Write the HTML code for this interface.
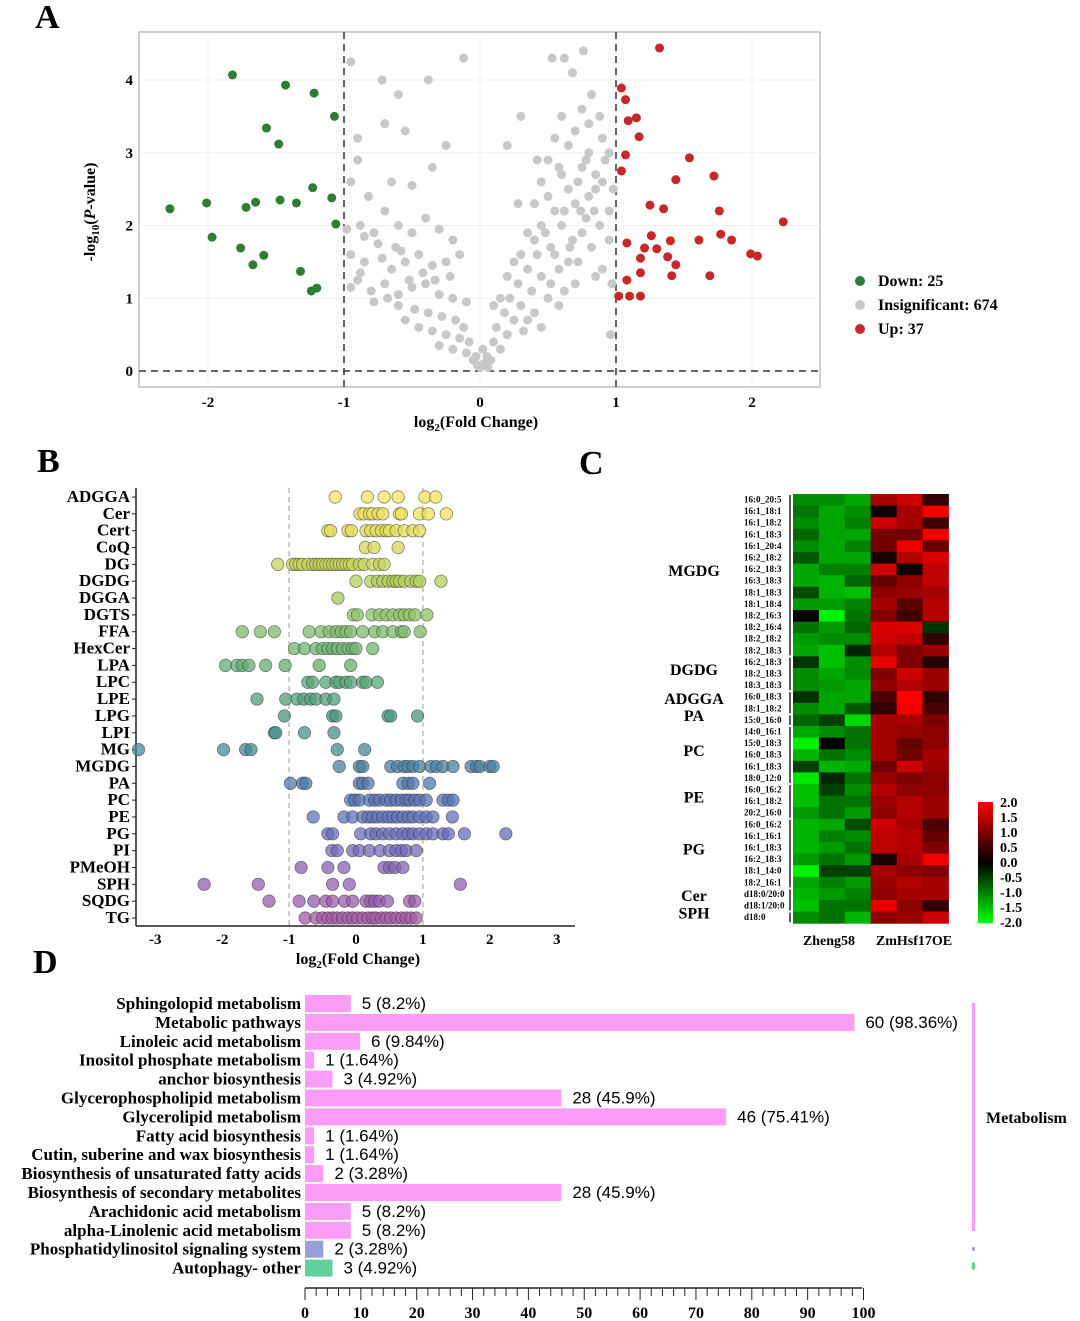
<!DOCTYPE html>
<html><head><meta charset="utf-8"><style>
body{margin:0;background:#fff;}
svg{display:block;font-family:"Liberation Serif",serif;}
</style></head><body>
<svg id="fig" width="1080" height="1321" viewBox="0 0 1080 1321" xmlns="http://www.w3.org/2000/svg">
<g id="gA"></g>
<g id="gB"></g>
<g id="gC"></g>
<g id="gD"></g>
</svg>
<script>
// ---------- Panel A data ----------
const downX=[-1.82,-1.43,-1.22,-1.07,-1.57,-1.48,-1.23,-1.09,-1.35,-1.47,-1.65,-1.72,-2.01,-2.28,-1.06,-1.97,-1.76,-1.59,-1.67,-1.32,-1.24,-1.2];
const downY=[4.07,3.93,3.82,3.5,3.34,3.12,2.52,2.38,2.31,2.35,2.32,2.25,2.31,2.23,2.02,1.84,1.69,1.59,1.46,1.37,1.10,1.14];
const upX=[1.32,1.04,1.07,1.09,1.15,1.17,1.07,1.04,1.54,1.44,1.72,1.25,1.35,1.76,2.23,1.26,1.08,1.4,1.61,1.77,1.85,1.21,1.3,1.38,1.18,1.44,1.99,2.04,1.08,1.18,1.41,1.69,1.02,1.1,1.18];
const upY=[4.44,3.89,3.73,3.44,3.48,3.22,2.97,2.75,2.93,2.63,2.68,2.28,2.23,2.2,2.05,1.86,1.76,1.79,1.8,1.88,1.8,1.69,1.68,1.57,1.55,1.46,1.61,1.58,1.25,1.35,1.31,1.31,1.03,1.03,1.03];
const nsX=[-0.95,-0.72,-0.6,-0.38,-0.12,-0.9,-0.7,-0.55,-0.25,-0.9,-0.65,-0.5,-0.35,-0.95,-0.82,-0.7,-0.88,-0.78,-0.6,-0.5,-0.4,-0.3,-0.2,-0.95,-0.85,-0.72,-0.65,-0.55,-0.45,-0.35,-0.25,-0.15,-0.9,-0.8,-0.7,-0.6,-0.5,-0.4,-0.3,-0.2,-0.1,-0.6,-0.48,-0.38,-0.28,-0.18,-0.45,-0.35,-0.25,-0.15,-0.2,-0.1,-0.05,-0.12,-0.08,-0.3,-0.55,-0.62,-0.42,-0.33,-0.22,-0.52,-0.75,-0.85,-0.58,-0.68,-0.78,-0.88,-0.98,-0.95,
0,0.03,-0.02,0.05,0.08,0.02,-0.03,0.06,
0.1,0.12,0.15,0.18,0.2,0.22,0.25,0.28,0.3,0.32,0.35,0.38,0.4,0.42,0.45,0.48,0.5,0.52,0.55,0.58,0.6,0.62,0.65,0.68,0.7,0.72,0.75,0.78,0.8,0.82,0.85,0.88,0.9,0.92,0.95,0.97,0.3,0.35,0.4,0.45,0.5,0.55,0.6,0.65,0.7,0.75,0.8,0.85,0.9,0.25,0.2,0.15,0.45,0.55,0.6,0.65,0.7,0.75,0.8,0.85,0.9,0.95,0.98,0.4,0.5,0.58,0.62,0.72,0.78,0.88,0.53,0.62,0.76,0.3,0.68,0.82,0.95,0.96,0.35,0.45,0.58,0.52,0.66,0.74,0.84,0.28,0.42,0.2,0.1];
const nsY=[4.25,4.0,3.8,4.0,4.3,3.2,3.4,3.3,3.1,2.9,2.6,2.55,2.8,2.6,2.4,2.2,2.0,1.9,2.0,1.9,2.1,1.95,1.8,1.6,1.5,1.55,1.4,1.5,1.6,1.45,1.5,1.6,1.25,1.1,1.2,1.05,1.15,1.2,1.05,1.0,0.95,0.9,0.85,0.8,0.75,0.7,0.6,0.55,0.5,0.45,0.3,0.25,0.15,0.6,0.4,0.35,0.7,1.7,1.35,1.25,1.3,1.25,1.75,1.85,1.65,1.0,0.95,1.35,1.95,1.15,
0.05,0.1,0.08,0.2,0.15,0.3,0.2,0.05,
0.4,0.6,0.3,0.8,0.5,1.0,0.7,1.2,0.9,0.55,1.4,1.1,0.8,1.6,1.3,1.9,1.0,1.7,2.2,1.4,2.0,1.1,2.5,1.8,2.3,1.5,2.8,2.1,3.0,1.7,2.5,2.0,1.4,2.9,2.2,1.2,1.6,1.9,2.3,2.6,2.9,3.2,3.5,3.1,3.3,3.6,3.4,2.7,3.2,1.5,1.3,1.0,2.0,1.6,2.7,1.5,1.2,1.9,2.4,1.3,2.6,1.8,2.5,1.8,2.4,2.8,2.2,2.6,2.9,3.5,4.3,4.3,4.4,3.5,4.1,3.8,3.0,0.5,0.7,0.6,0.9,1.2,1.7,2.2,2.2,2.3,2.9,3.1,0.9];
const aXTicks=[-2,-1,0,1,2];
const aYTicks=[0,1,2,3,4];
// ---------- Panel B data ----------
const bClasses=["ADGGA","Cer","Cert","CoQ","DG","DGDG","DGGA","DGTS","FFA","HexCer","LPA","LPC","LPE","LPG","LPI","MG","MGDG","PA","PC","PE","PG","PI","PMeOH","SPH","SQDG","TG"];
const bVals=[
[-0.31,0.17,0.42,0.63,1.03,1.19],
[0.06,0.12,0.2,0.25,0.33,0.4,0.65,0.68,0.95,1.08,1.35],
[-0.42,-0.38,-0.12,-0.07,0.15,0.22,0.3,0.38,0.45,0.5,0.6,0.72,0.85,0.95],
[0.14,0.27,0.63],
[-1.17,-0.95,-0.9,-0.85,-0.8,-0.72,-0.65,-0.6,-0.55,-0.5,-0.45,-0.4,-0.35,-0.3,-0.25,-0.2,-0.15,-0.1,-0.05,0.05,0.12,0.25,0.35,0.42],
[0.0,0.22,0.32,0.4,0.48,0.55,0.6,0.65,0.72,0.82,0.9,0.95,1.27],
[-0.27],
[-0.04,0.02,0.24,0.35,0.45,0.55,0.65,0.72,0.8,0.88,1.06],
[-1.7,-1.43,-1.22,-0.7,-0.52,-0.4,-0.3,-0.22,-0.15,-0.08,0.1,0.28,0.4,0.55,0.68,0.72,0.96],
[-0.92,-0.77,-0.6,-0.5,-0.42,-0.35,-0.28,-0.2,-0.12,-0.05,0.0,0.25],
[-1.95,-1.78,-1.7,-1.6,-1.35,-1.06,-0.55,-0.08],
[-0.72,-0.65,-0.45,-0.3,-0.25,-0.15,-0.08,0.1,0.15,0.32],
[-1.48,-1.05,-0.88,-0.78,-0.68,-0.6,-0.45,-0.33],
[-1.07,-0.35,-0.3,0.48,0.52,0.92],
[-1.22,-1.2,-0.77,-0.33],
[-3.25,-1.98,-1.65,-1.57,-0.28,0.13],
[-0.25,0.05,0.1,0.52,0.62,0.72,0.78,0.85,0.95,1.12,1.2,1.3,1.45,1.72,1.8,1.85,2.0,2.05],
[-0.98,-0.8,-0.75,0.05,0.1,0.18,0.7,0.78,0.85,1.1],
[-0.08,-0.02,0.05,0.2,0.28,0.35,0.45,0.52,0.6,0.68,0.75,0.8,0.88,0.95,1.05,1.3,1.38,1.45],
[-0.64,-0.18,-0.05,0.1,0.18,0.25,0.32,0.4,0.48,0.55,0.62,0.7,0.78,0.85,0.95,1.05,1.15,1.44],
[-0.42,-0.35,0.07,0.22,0.3,0.4,0.5,0.6,0.7,0.78,0.85,0.95,1.05,1.15,1.3,1.38,1.62,2.24],
[-0.36,-0.28,-0.05,0.05,0.2,0.36,0.5,0.6,0.68,0.75,0.9],
[-0.82,-0.42,-0.18,0.42,0.5,0.58,0.7],
[-2.27,-1.46,-0.35,-0.1,1.56],
[-1.3,-0.85,-0.63,-0.45,-0.35,-0.17,-0.05,0.15,0.22,0.28,0.35,0.47,0.8,0.88],
[-0.76,-0.6,-0.5,-0.42,-0.35,-0.28,-0.2,-0.12,-0.05,0.02,0.1,0.18,0.25,0.3,0.38,0.45,0.52,0.6,0.68,0.75,0.82,0.9]];
const bXTicks=[-3,-2,-1,0,1,2,3];
// ---------- Panel C data ----------
const cRows=["16:0_20:5","16:1_18:1","16:1_18:2","16:1_18:3","16:1_20:4","16:2_18:2","16:2_18:3","16:3_18:3","18:1_18:3","18:1_18:4","18:2_16:3","18:2_16:4","18:2_18:2","18:2_18:3","16:2_18:3","18:2_18:3","18:3_18:3","16:0_18:3","18:1_18:2","15:0_16:0","14:0_16:1","15:0_18:3","16:0_18:3","16:1_18:3","18:0_12:0","16:0_16:2","16:1_18:2","20:2_16:0","16:0_16:2","16:1_16:1","16:1_18:3","16:2_18:3","18:1_14:0","18:2_16:1","d18:0/20:0","d18:1/20:0","d18:0"];
const cVals=[
[-1.1,-1.1,-1.3,1.3,1.6,0.4],[-0.9,-1.3,-1.1,0.1,1.3,1.9],[-1.1,-1.3,-1.0,1.6,1.3,0.5],[-0.8,-1.3,-1.3,0.9,0.9,1.9],
[-1.1,-1.3,-1.0,0.9,1.8,0.8],[-0.7,-1.3,-1.3,0.2,1.4,1.7],[-1.3,-1.0,-1.0,1.6,0.1,1.5],[-1.3,-1.4,-0.8,0.8,1.1,1.5],
[-0.6,-1.4,-1.5,1.1,1.2,1.3],[-1.2,-1.2,-1.0,1.3,0.7,1.4],[0.0,-1.9,-0.9,1.0,0.5,1.4],[-0.9,-1.2,-0.8,1.7,1.7,-0.4],
[-1.2,-1.1,-1.1,1.6,1.5,0.4],[-1.3,-1.5,-0.3,1.4,1.0,1.2],[-0.4,-1.5,-1.1,1.8,1.0,0.3],[-1.1,-1.3,-1.1,1.0,1.6,1.2],
[-1.1,-1.2,-1.3,1.1,1.4,1.2],[-0.4,-1.3,-1.3,0.6,2.0,0.4],[-1.1,-1.3,-0.7,0.4,1.9,0.6],[-0.8,-0.5,-1.7,1.3,1.3,1.0],
[-1.3,-1.1,-0.9,1.3,1.2,1.1],[-1.9,0.0,-0.9,1.3,0.8,1.1],[-1.4,-0.9,-1.1,1.3,0.9,1.3],[-0.5,-1.4,-1.3,0.9,1.6,1.2],
[-1.8,-0.3,-0.9,1.2,1.0,1.1],[-1.5,-0.5,-1.1,1.4,1.1,1.1],[-1.5,-0.9,-0.9,1.2,1.4,1.2],[-1.2,-0.9,-1.2,1.1,1.4,1.2],
[-1.4,-1.3,-0.6,1.6,1.3,0.6],[-1.4,-1.0,-1.1,1.5,1.4,0.8],[-1.4,-1.2,-0.9,1.5,1.4,1.0],[-1.2,-0.9,-1.2,0.2,1.3,1.9],
[-1.9,-0.5,-0.5,1.3,1.1,1.0],[-1.3,-1.0,-1.2,1.2,1.4,1.3],[-1.4,-1.2,-1.0,1.1,1.3,1.3],[-1.5,-0.9,-0.9,1.8,1.1,0.4],
[-1.1,-0.9,-1.4,1.1,1.2,1.6]];
const cGroups=["MGDG","DGDG","ADGGA","PA","PC","PE","PG","Cer","SPH"];
const cGroupStart=[0,14,17,19,20,25,28,34,36];
const cGroupEnd=[13,16,18,19,24,27,33,35,36];
const cScaleTicks=["2.0","1.5","1.0","0.5","0.0","-0.5","-1.0","-1.5","-2.0"];
// ---------- Panel D data ----------
const dTerms=["Sphingolopid metabolism","Metabolic pathways","Linoleic acid metabolism","Inositol phosphate metabolism","anchor biosynthesis","Glycerophospholipid metabolism","Glycerolipid metabolism","Fatty acid biosynthesis","Cutin, suberine and wax biosynthesis","Biosynthesis of unsaturated fatty acids","Biosynthesis of secondary metabolites","Arachidonic acid metabolism","alpha-Linolenic acid metabolism","Phosphatidylinositol signaling system","Autophagy- other"];
const dCounts=[5,60,6,1,3,28,46,1,1,2,28,5,5,2,3];
const dPctNum=[8.2,98.36,9.84,1.64,4.92,45.9,75.41,1.64,1.64,3.28,45.9,8.2,8.2,3.28,4.92];
const dCat=[0,0,0,0,0,0,0,0,0,0,0,0,0,1,2];
const dTicks=[0,10,20,30,40,50,60,70,80,90,100];

const NS="http://www.w3.org/2000/svg";
function mk(parent,tag,attrs,text){const e=document.createElementNS(NS,tag);for(const k in attrs)e.setAttribute(k,attrs[k]);if(text!==undefined)e.textContent=text;parent.appendChild(e);return e;}

const fig=document.getElementById('fig');
[["A",35,28],["B",37,472],["C",579,474],["D",33,973]].forEach(l=>{
 const t=mk(fig,'text',{x:l[1],y:l[2],'font-size':34,'font-weight':'bold'},l[0]);
 
 
});

// ---------- Panel A ----------
(function(){
 const g=document.getElementById('gA');
 const ax=v=>480+v*136, ay=v=>371-v*72.75;
 const frame=mk(g,'rect',{x:139,y:32,width:681,height:355,fill:'#fff',stroke:'#bdbdbd','stroke-width':1.5});
 
 aXTicks.forEach(v=>{mk(g,'line',{x1:ax(v),x2:ax(v),y1:32,y2:387,stroke:'#f0f0f0'});
  const t=mk(g,'text',{x:ax(v),y:407,'text-anchor':'middle','font-size':15,'font-weight':'bold'},String(v));
  });
 aYTicks.forEach(v=>{mk(g,'line',{x1:139,x2:820,y1:ay(v),y2:ay(v),stroke:'#f0f0f0'});
  const t=mk(g,'text',{x:133,y:ay(v)+5,'text-anchor':'end','font-size':15,'font-weight':'bold'},String(v));
  });
 [-1,1].forEach(v=>{const l=mk(g,'line',{x1:ax(v),x2:ax(v),y1:32,y2:387,stroke:'#333','stroke-width':1.5,'stroke-dasharray':'7,5'});
  });
 const h=mk(g,'line',{x1:139,x2:820,y1:ay(0),y2:ay(0),stroke:'#333','stroke-width':1.5,'stroke-dasharray':'7,5'});
 
 nsX.forEach((x,i)=>{const c=mk(g,'circle',{cx:ax(x),cy:ay(nsY[i]),r:4.5,fill:'#c8c8c8'});
  });
 downX.forEach((x,i)=>{const c=mk(g,'circle',{cx:ax(x),cy:ay(downY[i]),r:4.5,fill:'#2e7d32'});
  });
 upX.forEach((x,i)=>{const c=mk(g,'circle',{cx:ax(x),cy:ay(upY[i]),r:4.5,fill:'#c62828'});
  });
 const xt=mk(g,'text',{x:476,y:427,'text-anchor':'middle','font-size':16,'font-weight':'bold'});
 xt.innerHTML='log<tspan font-size="11" dy="4">2</tspan><tspan dy="-4">(Fold Change)</tspan>';
 
 const yt=mk(g,'text',{transform:'translate(95,212) rotate(-90)','text-anchor':'middle','font-size':16,'font-weight':'bold'});
 yt.innerHTML='-log<tspan font-size="11" dy="4">10</tspan><tspan dy="-4">(</tspan><tspan font-style="italic">P</tspan>-value)';
 
 [["Down: 25",'#2e7d32',281],["Insignificant: 674",'#c8c8c8',305],["Up: 37",'#c62828',329]].forEach(e=>{
  const lg=mk(g,'g',{});
  mk(lg,'circle',{cx:860,cy:e[2],r:5,fill:e[1]});
  mk(lg,'text',{x:878,y:e[2]+5,'font-size':16,'font-weight':'bold'},e[0]);});
})();

// ---------- Panel B ----------
(function(){
 const g=document.getElementById('gB');
 const bx=v=>356+v*66.9, by=i=>497+i*16.84;
 const cols=['#f2e55a','#eee15a','#e6dc55','#d8d85a','#c5d45a','#b5cf5a','#a3c95e','#90c264','#7dbb6a','#6db56e','#60ae72','#56a676','#4f9e7c','#4a9783','#48908b','#468893','#4a7fa0','#5078ab','#5872b4','#6070ba','#6a6cbb','#7768b8','#8462b3','#9160b0','#9a5cac','#a45aa8'];
 mk(g,'line',{x1:136,x2:136,y1:488,y2:926,stroke:'#222','stroke-width':1.5});
 mk(g,'line',{x1:136,x2:575,y1:926,y2:926,stroke:'#222','stroke-width':1.5});
 [-1,1].forEach(v=>{const l=mk(g,'line',{x1:bx(v),x2:bx(v),y1:488,y2:926,stroke:'#aaa','stroke-width':1.2,'stroke-dasharray':'5,4'});
  });
 bXTicks.forEach(v=>{const t=mk(g,'text',{x:bx(v),y:944,'text-anchor':'middle','font-size':15,'font-weight':'bold'},String(v));
  });
 bClasses.forEach((c,i)=>{
  const t=mk(g,'text',{x:130,y:by(i)+5,'text-anchor':'end','font-size':17,'font-weight':'bold'},c);
  
  mk(g,'line',{x1:132,x2:136,y1:by(i),y2:by(i),stroke:'#222'});
  bVals[i].forEach(v=>{const p=mk(g,'circle',{cx:bx(v),cy:by(i),r:6.2,fill:cols[i],'fill-opacity':0.75,stroke:'#333','stroke-opacity':0.6,'stroke-width':0.8});
   });
 });
 const xt=mk(g,'text',{x:358,y:964,'text-anchor':'middle','font-size':16,'font-weight':'bold'});
 xt.innerHTML='log<tspan font-size="11" dy="4">2</tspan><tspan dy="-4">(Fold Change)</tspan>';
 
})();

// ---------- Panel C ----------
(function(){
 const g=document.getElementById('gC');
 const x0=793,cw=25.9,y0=494,rh=11.6;
 function col(v){v=Math.max(-2,Math.min(2,v));const k=Math.round(Math.abs(v)/2*255);return v<0?`rgb(0,${k},0)`:`rgb(${k},0,0)`;}
 cVals.forEach((row,i)=>{
  row.forEach((v,j)=>{const r=mk(g,'rect',{x:x0+j*cw,y:y0+i*rh,width:cw+0.5,height:rh+0.5,fill:col(v)});
   });
  const t=mk(g,'text',{x:744,y:y0+i*rh+8.5,'font-size':9,'font-weight':'bold'},cRows[i]);
  
 });
 cGroups.forEach((gname,k)=>{
  const ya=y0+cGroupStart[k]*rh+1, yb=y0+(cGroupEnd[k]+1)*rh-1;
  mk(g,'line',{x1:790,x2:790,y1:ya,y2:yb,stroke:'#222','stroke-width':1.5});
  const t=mk(g,'text',{x:694,y:(ya+yb)/2+1,'text-anchor':'middle','font-size':16,'font-weight':'bold'},gname);
  
 });
 [["Zheng58",829],["ZmHsf17OE",914]].forEach(c=>{const t=mk(g,'text',{x:c[1],y:945,'text-anchor':'middle','font-size':14,'font-weight':'bold'},c[0]);
  });
 const defs=mk(g,'defs',{});const lg=mk(defs,'linearGradient',{id:'cbar',x1:0,y1:0,x2:0,y2:1});
 mk(lg,'stop',{offset:'0','stop-color':'#ff0000'});mk(lg,'stop',{offset:'0.5','stop-color':'#000'});mk(lg,'stop',{offset:'1','stop-color':'#00ff00'});
 const cb=mk(g,'rect',{x:978,y:802,width:15,height:121,fill:'url(#cbar)'});
 
 cScaleTicks.forEach((s,i)=>{const t=mk(g,'text',{x:1000,y:807+i*15,'font-size':14,'font-weight':'bold'},s);
  });
})();

// ---------- Panel D ----------
(function(){
 const g=document.getElementById('gD');
 const dx=v=>305+v*5.585, dy=i=>1003+i*18.9;
 const colors=['#fd9cf6','#9a9ed8','#63cf9b'];
 dTerms.forEach((t,i)=>{
  const lb=mk(g,'text',{x:301,y:dy(i)+6,'text-anchor':'end','font-size':17,'font-weight':'bold'},t);
  
  const b=mk(g,'rect',{x:305,y:dy(i)-8,width:dx(dPctNum[i])-305,height:17,fill:colors[dCat[i]]});
  
  const v=mk(g,'text',{x:dx(dPctNum[i])+11,y:dy(i)+6,'font-size':17,'font-family':'"Liberation Sans",sans-serif'},dCounts[i]+' ('+dPctNum[i]+'%)');
  
 });
 mk(g,'line',{x1:305,x2:862,y1:1288,y2:1288,stroke:'#222','stroke-width':1.5});
 for(let v=0;v<=100;v+=2){mk(g,'line',{x1:dx(v),x2:dx(v),y1:1288,y2:v%10===0?1300:1296,stroke:'#222','stroke-width':1});}
 dTicks.forEach(v=>{const t=mk(g,'text',{x:dx(v),y:1318,'text-anchor':'middle','font-size':16,'font-weight':'bold'},String(v));
  });
 mk(g,'rect',{x:972,y:1003,width:3,height:228,fill:colors[0]});
 mk(g,'ellipse',{cx:973.5,cy:1249,rx:1.5,ry:2,fill:colors[1]});
 mk(g,'ellipse',{cx:973.5,cy:1266,rx:2,ry:4,fill:colors[2]});
 const m=mk(g,'text',{x:986,y:1123,'font-size':16,'font-weight':'bold'},'Metabolism');
 
})();
</script>
</body></html>
